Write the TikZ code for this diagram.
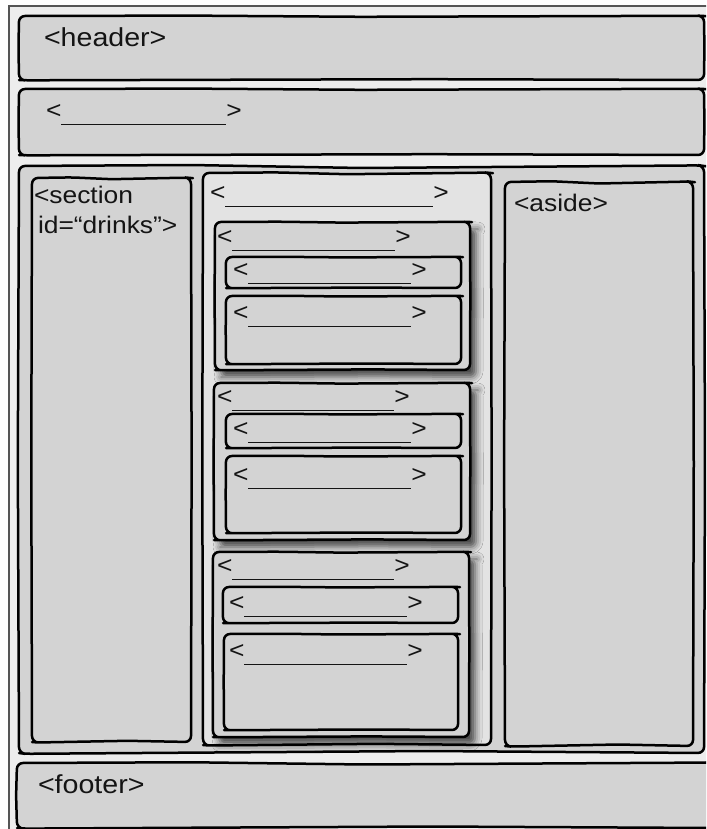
\documentclass[tikz,border=0pt]{standalone}
\usepackage{fontspec}
\newfontfamily\lbl[FakeStretch=1.1]{Liberation Sans}
\usetikzlibrary{shadows.blur}
\definecolor{framebg}{HTML}{EDEDED}
\definecolor{boxbg}{HTML}{D3D3D3}
\definecolor{colbg}{HTML}{E3E3E3}
\definecolor{framegray}{HTML}{555555}
\newcommand\blank[1]{<\rule[-6.5pt]{#1}{1.3pt}>}
% sketchy box: [style]{x1}{y1}{x2}{y2}{wobble}
\newcommand\skbox[6][]{%
  \path[sk,#1] ({(#2+#4)/2},{#3+#6}) -- ({#4-4},{#3-0.3*#6}) -- (#4,#3)
    -- ({#4+0.5*#6},{(#3+#5)/2}) -- (#4,#5) -- ({#2+0.6*(#4-#2)},{#5-#6})
    -- ({#2+6},{#5+0.4*#6}) -- (#2,#5) -- ({#2-0.6*#6},{(#3+#5)/2})
    -- (#2,#3) -- ({#2+0.25*(#4-#2)},{#3-0.5*#6}) -- cycle;}
\begin{document}
\begin{tikzpicture}[x=1pt,y=-1pt,
  sk/.style={draw=black, line width=2.5pt, fill=boxbg, rounded corners=6pt, line join=round},
  art/.style={blur shadow={shadow xshift=6pt, shadow yshift=-7pt,
    shadow blur radius=7pt, shadow opacity=70}},
  lab/.style={anchor=base west, inner sep=0pt, outer sep=0pt,
    font=\lbl\fontsize{24}{30}\selectfont, text=black!92},
  biglab/.style={lab, font=\lbl\fontsize{26}{30}\selectfont}]
\useasboundingbox (0,0) rectangle (706,829);
\clip (0,0) rectangle (706,829);
% outer frame
\fill[framebg] (9,6) rectangle (720,840);
\draw[framegray, line width=2.2pt] (9,840) -- (9,6) -- (720,6);
% header, nav
\skbox{19}{16}{704}{80}{0.8}
\skbox{19}{89}{704}{155}{0.8}
% main
\skbox{19}{166}{704}{753}{2}
\skbox{32}{178}{191}{742}{1.2}
\skbox[fill=colbg]{203}{173}{491}{745}{1.2}
\skbox{505}{182}{693}{746}{1.5}
% articles
\skbox[art]{215}{222}{470}{370}{0.6}
\skbox{226}{257}{461}{288}{0.4}
\skbox{226}{296}{461}{364}{0.5}
\skbox[art]{214}{383}{470}{540}{0.6}
\skbox{226}{414}{461}{448}{0.4}
\skbox{226}{456}{461}{533}{0.5}
\skbox[art]{213}{552}{469}{737}{0.6}
\skbox{223}{587}{458}{623}{0.4}
\skbox{224}{634}{458}{730}{0.5}
% footer
\skbox{17}{763}{712}{828}{1.5}
% labels
\node[biglab] (hdr) at (44,47) {<header>};
\node[lab] (nav) at (46,118.5) {\blank{165pt}};
\node[lab] (sec1) at (34,203) {<section};
\node[lab] (sec2) at (38,233) {id=“drinks”>};
\node[lab] (ctr) at (210,200.5) {\blank{208pt}};
\node[lab] (asd) at (514,211) {<aside>};
\node[lab] (a1) at (217,244.5) {\blank{163pt}};
\node[lab] (a1h) at (233,277.5) {\blank{163pt}};
\node[lab] (a1c) at (233,320.5) {\blank{163pt}};
\node[lab] (a2) at (217,404.5) {\blank{162pt}};
\node[lab] (a2h) at (233,436.5) {\blank{163pt}};
\node[lab] (a2c) at (233,482.5) {\blank{163pt}};
\node[lab] (a3) at (217,573.5) {\blank{162pt}};
\node[lab] (a3h) at (229,610.5) {\blank{163pt}};
\node[lab] (a3c) at (229,658.5) {\blank{163pt}};
\node[biglab] (ftr) at (38,793) {<footer>};
\end{tikzpicture}
\end{document}
